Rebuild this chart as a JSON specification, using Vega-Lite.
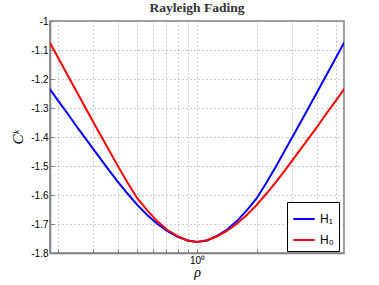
{
  "$schema": "https://vega.github.io/schema/vega-lite/v6.json",
  "autosize": "none",
  "width": 294,
  "height": 232,
  "padding": {"left": 50, "top": 21, "right": 35, "bottom": 32},
  "background": "white",
  "title": {"text": "Rayleigh Fading", "font": "Liberation Serif", "fontSize": 13.5, "fontWeight": "bold", "color": "#333333", "offset": 2},
  "config": {
    "view": {"stroke": "#808080", "strokeWidth": 1.5},
    "axis": {
      "labelFont": "Liberation Sans", "labelFontSize": 10, "labelColor": "#000000",
      "domainColor": "#808080", "domainWidth": 1.5,
      "tickColor": "#808080", "tickSize": -4,
      "gridColor": "#9a9a9a", "gridDash": [1, 3], "gridWidth": 1
    }
  },
  "data": {"values": [
    {"rho": 0.18197, "v": -1.234, "s": "H₁"},
    {"rho": 0.19953, "v": -1.272, "s": "H₁"},
    {"rho": 0.22387, "v": -1.319, "s": "H₁"},
    {"rho": 0.25119, "v": -1.368, "s": "H₁"},
    {"rho": 0.28184, "v": -1.414, "s": "H₁"},
    {"rho": 0.31623, "v": -1.461, "s": "H₁"},
    {"rho": 0.35481, "v": -1.507, "s": "H₁"},
    {"rho": 0.39811, "v": -1.552, "s": "H₁"},
    {"rho": 0.44668, "v": -1.594, "s": "H₁"},
    {"rho": 0.50119, "v": -1.634, "s": "H₁"},
    {"rho": 0.56234, "v": -1.669, "s": "H₁"},
    {"rho": 0.63096, "v": -1.699, "s": "H₁"},
    {"rho": 0.70795, "v": -1.724, "s": "H₁"},
    {"rho": 0.79433, "v": -1.743, "s": "H₁"},
    {"rho": 0.89125, "v": -1.756, "s": "H₁"},
    {"rho": 1.0, "v": -1.762, "s": "H₁"},
    {"rho": 1.12202, "v": -1.757, "s": "H₁"},
    {"rho": 1.25893, "v": -1.741, "s": "H₁"},
    {"rho": 1.41254, "v": -1.720, "s": "H₁"},
    {"rho": 1.58489, "v": -1.690, "s": "H₁"},
    {"rho": 1.77828, "v": -1.653, "s": "H₁"},
    {"rho": 1.99526, "v": -1.611, "s": "H₁"},
    {"rho": 2.23872, "v": -1.556, "s": "H₁"},
    {"rho": 2.51189, "v": -1.497, "s": "H₁"},
    {"rho": 2.81838, "v": -1.435, "s": "H₁"},
    {"rho": 3.16228, "v": -1.374, "s": "H₁"},
    {"rho": 3.54813, "v": -1.312, "s": "H₁"},
    {"rho": 3.98107, "v": -1.249, "s": "H₁"},
    {"rho": 4.46684, "v": -1.186, "s": "H₁"},
    {"rho": 5.01187, "v": -1.123, "s": "H₁"},
    {"rho": 5.49541, "v": -1.073, "s": "H₁"},
    {"rho": 0.18197, "v": -1.073, "s": "H₀"},
    {"rho": 0.19953, "v": -1.123, "s": "H₀"},
    {"rho": 0.22387, "v": -1.186, "s": "H₀"},
    {"rho": 0.25119, "v": -1.249, "s": "H₀"},
    {"rho": 0.28184, "v": -1.312, "s": "H₀"},
    {"rho": 0.31623, "v": -1.374, "s": "H₀"},
    {"rho": 0.35481, "v": -1.435, "s": "H₀"},
    {"rho": 0.39811, "v": -1.497, "s": "H₀"},
    {"rho": 0.44668, "v": -1.556, "s": "H₀"},
    {"rho": 0.50119, "v": -1.611, "s": "H₀"},
    {"rho": 0.56234, "v": -1.653, "s": "H₀"},
    {"rho": 0.63096, "v": -1.690, "s": "H₀"},
    {"rho": 0.70795, "v": -1.720, "s": "H₀"},
    {"rho": 0.79433, "v": -1.741, "s": "H₀"},
    {"rho": 0.89125, "v": -1.757, "s": "H₀"},
    {"rho": 1.0, "v": -1.762, "s": "H₀"},
    {"rho": 1.12202, "v": -1.756, "s": "H₀"},
    {"rho": 1.25893, "v": -1.743, "s": "H₀"},
    {"rho": 1.41254, "v": -1.724, "s": "H₀"},
    {"rho": 1.58489, "v": -1.699, "s": "H₀"},
    {"rho": 1.77828, "v": -1.669, "s": "H₀"},
    {"rho": 1.99526, "v": -1.634, "s": "H₀"},
    {"rho": 2.23872, "v": -1.594, "s": "H₀"},
    {"rho": 2.51189, "v": -1.552, "s": "H₀"},
    {"rho": 2.81838, "v": -1.507, "s": "H₀"},
    {"rho": 3.16228, "v": -1.461, "s": "H₀"},
    {"rho": 3.54813, "v": -1.414, "s": "H₀"},
    {"rho": 3.98107, "v": -1.368, "s": "H₀"},
    {"rho": 4.46684, "v": -1.319, "s": "H₀"},
    {"rho": 5.01187, "v": -1.272, "s": "H₀"},
    {"rho": 5.49541, "v": -1.234, "s": "H₀"}
  ]},
  "mark": {"type": "line", "strokeWidth": 2, "clip": true},
  "encoding": {
    "x": {
      "field": "rho", "type": "quantitative",
      "scale": {"type": "log", "domain": [0.1828, 5.47], "nice": false},
      "axis": {
        "title": "ρ", "titleFont": "Liberation Serif", "titleFontStyle": "italic", "titleFontWeight": "normal", "titleFontSize": 14, "titlePadding": 0,
        "values": [0.2, 0.3, 0.4, 0.5, 0.6, 0.7, 0.8, 0.9, 1, 2, 3, 4, 5],
        "labelExpr": "datum.value == 1 ? '10⁰' : ''",
        "labelPadding": 6
      }
    },
    "y": {
      "field": "v", "type": "quantitative",
      "scale": {"domain": [-1.8, -1], "nice": false, "zero": false},
      "axis": {
        "title": "Cᵏ", "titleFont": "Liberation Serif", "titleFontStyle": "italic", "titleFontWeight": "normal", "titleFontSize": 15, "titlePadding": 5,
        "values": [-1.8, -1.7, -1.6, -1.5, -1.4, -1.3, -1.2, -1.1, -1],
        "labelExpr": "replace(format(datum.value, '.1~f'), '−', '-')",
        "labelPadding": 6
      }
    },
    "color": {
      "field": "s", "type": "nominal",
      "scale": {"domain": ["H₁", "H₀"], "range": ["#0000ff", "#ff0000"]},
      "legend": {
        "title": null, "orient": "none", "legendX": 237, "legendY": 181,
        "symbolType": "stroke", "symbolStrokeWidth": 2, "symbolSize": 450,
        "labelFont": "Liberation Sans", "labelFontSize": 12, "labelColor": "#000000",
        "fillColor": "white", "strokeColor": "#000000", "padding": 5, "rowPadding": 3,
        "offset": 0
      }
    }
  }
}
